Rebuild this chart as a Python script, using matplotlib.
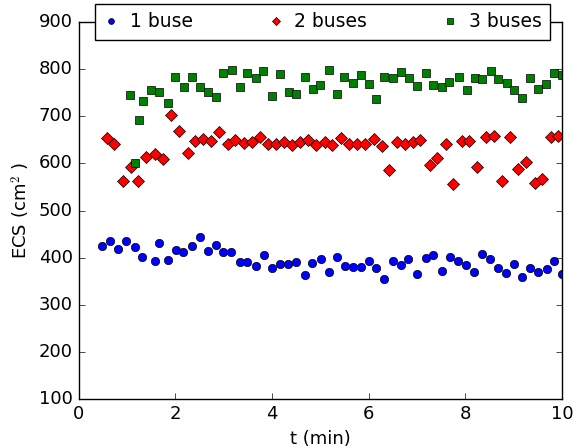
import matplotlib
matplotlib.use("Agg")
import matplotlib.pyplot as plt

# time (min) and ECS (cm^2) for each case
t_1 = [0.49, 0.66, 0.82, 0.99, 1.16, 1.32, 1.58, 1.67, 1.85, 2.01, 2.17, 2.34, 2.51, 2.67, 2.84,
       2.99, 3.15, 3.33, 3.49, 3.66, 3.84, 4.01, 4.16, 4.34, 4.49, 4.68, 4.83, 5.01, 5.17, 5.35,
       5.51, 5.68, 5.84, 6.01, 6.16, 6.32, 6.50, 6.67, 6.82, 7.00, 7.18, 7.34, 7.51, 7.68, 7.84,
       8.01, 8.18, 8.34, 8.51, 8.67, 8.85, 9.01, 9.18, 9.34, 9.51, 9.68, 9.84, 10.0]
ecs_1 = [424, 435, 419, 435, 422, 401, 393, 432, 396, 417, 412, 424, 443, 414, 427,
         413, 413, 391, 391, 383, 406, 378, 386, 387, 391, 364, 389, 398, 369, 401,
         383, 380, 381, 393, 378, 355, 394, 385, 398, 365, 399, 406, 371, 401, 394,
         385, 370, 407, 398, 378, 368, 387, 360, 378, 370, 376, 394, 365]

t_2 = [0.58, 0.74, 0.93, 1.08, 1.24, 1.40, 1.58, 1.74, 1.91, 2.07, 2.26, 2.40, 2.57, 2.74,
       2.91, 3.09, 3.24, 3.42, 3.59, 3.76, 3.92, 4.08, 4.25, 4.41, 4.58, 4.74,
       4.91, 5.09, 5.25, 5.42, 5.59, 5.76, 5.93, 6.10, 6.27, 6.42, 6.59, 6.75, 6.92, 7.07,
       7.26, 7.42, 7.59, 7.75, 7.92, 8.08, 8.25, 8.42, 8.59, 8.76, 8.93, 9.09, 9.25, 9.43,
       9.59, 9.76, 9.92]
ecs_2 = [653, 642, 563, 592, 563, 614, 621, 610, 702, 669, 622, 648, 651, 648,
         667, 641, 650, 643, 646, 655, 642, 642, 646, 638, 645, 650,
         640, 646, 640, 653, 641, 642, 642, 652, 637, 587, 646, 641, 645, 650,
         597, 611, 642, 556, 648, 648, 592, 657, 658, 562, 655, 588, 602, 559,
         567, 655, 658]

t_3 = [1.07, 1.17, 1.26, 1.34, 1.50, 1.66, 1.85, 1.99, 2.18, 2.34, 2.52, 2.67,
       2.85, 2.99, 3.18, 3.33, 3.49, 3.66, 3.82, 4.01, 4.17, 4.35, 4.50, 4.68, 4.84, 5.00,
       5.18, 5.34, 5.50, 5.68, 5.84, 6.01, 6.16, 6.32, 6.50, 6.67, 6.83, 7.00, 7.18, 7.34,
       7.51, 7.66, 7.86, 8.03, 8.19, 8.35, 8.52, 8.67, 8.86, 9.00, 9.18, 9.33, 9.51, 9.67,
       9.84, 9.99]
ecs_3 = [746, 600, 691, 732, 756, 752, 729, 783, 762, 784, 763, 751,
         741, 791, 799, 762, 792, 781, 796, 744, 789, 752, 748, 784, 757, 766,
         799, 747, 784, 771, 787, 768, 737, 784, 782, 794, 781, 765, 791, 766,
         763, 773, 783, 756, 781, 780, 796, 780, 770, 756, 739, 781, 758, 768,
         792, 788]

labels = ["1 buse", "2 buses", "3 buses"]

plt.style.use("classic")
plt.rcParams["font.size"] = 13

fig = plt.figure(figsize=(5.73, 4.48), dpi=100, facecolor="white")
ax = fig.add_axes([0.137, 0.109, 0.844, 0.842])

ax.plot(t_1, ecs_1, "bo", ms=6, mew=0.5, label=labels[0])
ax.plot(t_2, ecs_2, "rD", ms=6, mew=0.5, label=labels[1])
ax.plot(t_3, ecs_3, "gs", ms=6, mew=0.5, label=labels[2])

ax.set_xlim(0, 10)
ax.set_ylim(100, 900)
ax.set_xticks([0, 2, 4, 6, 8, 10])
ax.set_yticks(range(100, 901, 100))
ax.tick_params(labelsize=13)
ax.set_xlabel("t (min)", fontsize=13)
ax.set_ylabel("ECS (cm$^2$ )", fontsize=13)

ax.legend(loc="lower left", bbox_to_anchor=(0.035, 0.953, 0.94, 0.09), mode="expand",
          ncol=3, numpoints=1, markerscale=0.7, fontsize=13.5, frameon=True,
          borderaxespad=0, handlelength=0.8, handletextpad=0.6, borderpad=0.45)

fig.savefig("out.png", dpi=100, facecolor="white")
